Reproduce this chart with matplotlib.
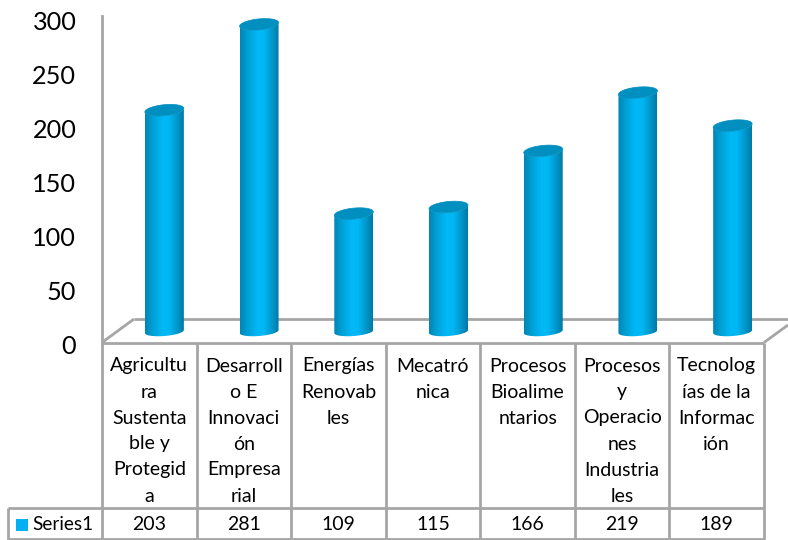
import numpy as np
import matplotlib
matplotlib.use("Agg")
import matplotlib.pyplot as plt
from matplotlib.colors import LinearSegmentedColormap
from matplotlib.patches import Polygon, Rectangle

categories = ["Agricultu\nra\nSustenta\nble y\nProtegid\na",
              "Desarroll\no E\nInnovaci\nón\nEmpresa\nrial",
              "Energías\nRenovab\nles",
              "Mecatró\nnica",
              "Procesos\nBioalime\nntarios",
              "Procesos\ny\nOperacio\nnes\nIndustria\nles",
              "Tecnolog\nías de la\nInformac\nión"]
values = [203, 281, 109, 115, 166, 219, 189]
series_name = "Series1"
yticks = [0, 50, 100, 150, 200, 250, 300]

W, H = 788, 540
plt.rcParams['font.family'] = ['Lato', 'DejaVu Sans']
fig = plt.figure(figsize=(W / 100, H / 100), dpi=100, facecolor='white')
GRAY = '#a6a6a6'
TXT = '#000000'
FS = 14

def axes_px(x0, x1, ytop, ybot, **kw):
    return fig.add_axes([x0 / W, 1 - ybot / H, (x1 - x0) / W, (ybot - ytop) / H], **kw)

# pixel-space frame layer (floor and data table rules)
frame = axes_px(0, W, 0, H)
frame.set_xlim(0, W); frame.set_ylim(H, 0); frame.axis('off')
colx = [102 + i * 94.57 for i in range(8)]
lk = dict(color=GRAY, lw=2, solid_capstyle='butt')
frame.plot([102, 764], [342.5, 342.5], **lk)
frame.plot([134, 788], [319, 319], **lk)
frame.plot([102, 134], [342.5, 319], **lk)
frame.plot([764, 788], [342.5, 325], **lk)
for x in colx:
    frame.plot([x, x], [342.5, 540], **lk)
frame.plot([8, 764], [508, 508], **lk)
frame.plot([8, 8], [508, 540], **lk)
frame.plot([8, 764], [539, 539], **lk)
frame.add_patch(Rectangle((16, 519), 12, 12, color='#00B0F0', lw=0))
frame.text(32, 525, series_name, fontsize=FS - 0.4, color=TXT, ha='left', va='center')
for i, (c, v) in enumerate(zip(categories, values)):
    cx = (colx[i] + colx[i + 1]) / 2
    for j, line in enumerate(c.split("\n")):
        frame.text(cx, 366 + 26 * j, line, fontsize=FS, color=TXT, ha='center', va='center')
    frame.text(cx, 525, str(v), fontsize=FS, color=TXT, ha='center', va='center')

# value axis (wall)
WS = 1.08
wall = axes_px(102, 764, 16, 344)
wall.patch.set_alpha(0)
wall.set_xlim(0, 1)
wall.set_ylim(0, 328 / WS)
wall.set_yticks(yticks)
wall.set_xticks([])
wall.tick_params(axis='y', length=0, labelsize=18.2, pad=18.5, labelcolor=TXT)
for s in ['top', 'right', 'bottom']:
    wall.spines[s].set_visible(False)
wall.spines['left'].set_color(GRAY)
wall.spines['left'].set_linewidth(2)
wall.spines['left'].set_bounds(1.9, 328 / WS)

# cylinders
PX = 1.10          # pixels per unit of value
Y0 = 333.5         # pixel of value 0
PAD = 10           # value units below zero kept visible for the rounded base
bars = axes_px(117, 780, Y0 - 300 * PX, Y0 + PAD * PX)
bars.patch.set_alpha(0); bars.axis('off')
cmap = LinearSegmentedColormap.from_list('cyl', [
    (0.00, '#0086b4'), (0.22, '#00a2d8'), (0.45, '#00b9f6'),
    (0.62, '#00b7f4'), (0.82, '#0098cc'), (1.00, '#0078a4')])
grad = np.linspace(0, 1, 256).reshape(1, -1)
half = 19.5 / (663 / 7)   # half width in category units
t = np.linspace(0, 2 * np.pi, 100)
for i, v in enumerate(values):
    ex = i + half * np.cos(t)
    ey = v + (5.5 * np.sin(t) + 1.8 * np.cos(t)) / PX
    th = t[t >= np.pi]
    lower_x = i + half * np.cos(th)
    lower_y = (2.0 + 4.5 * np.sin(th) + 1.5 * np.cos(th)) / PX
    top_y = v + (5.5 * np.sin(th) + 1.8 * np.cos(th)) / PX
    outline = np.vstack([np.column_stack([lower_x, lower_y]),
                         np.column_stack([lower_x[::-1], top_y[::-1]])])
    im = bars.imshow(grad, cmap=cmap, extent=(i - half, i + half, -PAD, v + 10),
                     aspect='auto', zorder=3)
    clip = Polygon(outline, closed=True, transform=bars.transData, fc='none', ec='none')
    bars.add_patch(clip)
    im.set_clip_path(clip)
    bars.add_patch(Polygon(np.column_stack([ex, ey]), closed=True,
                           fc='#008fbf', ec='#008fbf', lw=0.5, zorder=4))
bars.set_xlim(-0.5, 6.5); bars.set_ylim(-PAD, 300)

fig.savefig("out.png", dpi=100)
